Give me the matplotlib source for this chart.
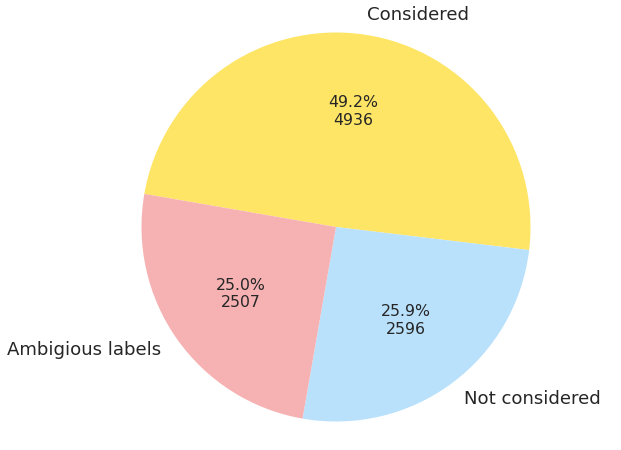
"""Pie chart of label status counts (considered / not considered / ambiguous)."""

import matplotlib

matplotlib.use("Agg")
import matplotlib.pyplot as plt

labels = ["Considered", "Not considered", "Ambigious labels"]
counts = [4936, 2596, 2507]
colors = ["#FEE566", "#B9E1FC", "#F6B2B3"]

_TEXT = "#262626"


def _pct_and_count(pct: float) -> str:
    total = sum(counts)
    return f"{pct:.1f}%\n{int(round(pct * total / 100))}"


def main() -> None:
    fig = plt.figure(figsize=(6.21, 4.5), dpi=100)
    # pie centre at (336, 227) px from top-left, radius ~194.5 px
    r_px = 194.5
    lim = 1.25
    size = 2 * lim * r_px
    ax = fig.add_axes([(336 - size / 2) / 621, (223 - size / 2) / 450,
                       size / 621, size / 450])

    _, texts, autotexts = ax.pie(
        counts, labels=labels, colors=colors, autopct=_pct_and_count,
        startangle=170.2, counterclock=False, labeldistance=1.1,
        pctdistance=0.6, textprops={"color": _TEXT})
    for t in texts:
        t.set_fontsize(13.05)
    for t in autotexts:
        t.set_fontsize(11.3)

    ax.set_xlim(-lim, lim)
    ax.set_ylim(-lim, lim)
    ax.set_aspect("auto")
    ax.axis("off")

    fig.savefig("out.png", dpi=100)
    plt.close(fig)


if __name__ == "__main__":
    main()
